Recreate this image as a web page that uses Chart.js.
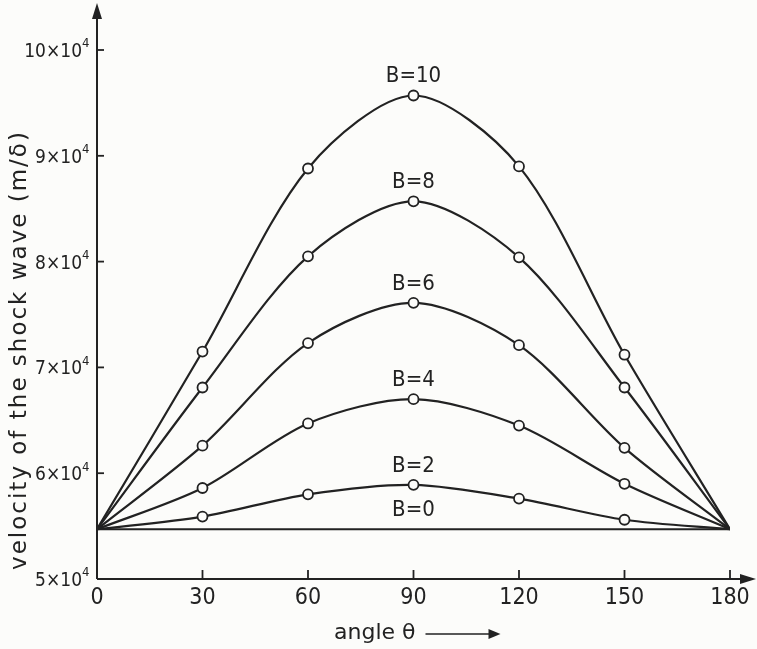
<!DOCTYPE html>
<html>
<head>
<meta charset="utf-8">
<script src="https://cdn.jsdelivr.net/npm/chart.js@4/dist/chart.umd.min.js"></script>
<style>
  html, body { margin: 0; padding: 0; background: #fcfcfa; }
  #wrap { width: 757px; height: 649px; }
</style>
</head>
<body>
<div id="wrap"><canvas id="shockChart" width="757" height="649"></canvas></div>
<script>
// angle theta (degrees)
const angles = [0, 30, 60, 90, 120, 150, 180];
// curve names
const curveNames = ["B=0", "B=2", "B=4", "B=6", "B=8", "B=10"];
// velocity of the shock wave, in units of 10^4 m/s
const b0 = [5.47, 5.47, 5.47, 5.47, 5.47, 5.47, 5.47];
const b2 = [5.47, 5.59, 5.80, 5.89, 5.76, 5.56, 5.47];
const b4 = [5.47, 5.86, 6.47, 6.70, 6.45, 5.90, 5.47];
const b6 = [5.47, 6.26, 7.23, 7.61, 7.21, 6.24, 5.47];
const b8 = [5.47, 6.81, 8.05, 8.57, 8.04, 6.81, 5.47];
const b10 = [5.47, 7.15, 8.88, 9.57, 8.90, 7.12, 5.47];
const yTicks = [5, 6, 7, 8, 9, 10];
const xTicks = [0, 30, 60, 90, 120, 150, 180];

const series = [b0, b2, b4, b6, b8, b10];
const ink = "#222";
const paper = "#fcfcfa";
const narrow = "'DejaVu Sans Condensed', 'DejaVu Sans', sans-serif";

const datasets = series.map((vals, i) => ({
    label: curveNames[i],
    data: angles.map((a, j) => ({ x: a, y: vals[j] })),
    borderColor: ink,
    borderWidth: 2.2,
    backgroundColor: paper,
    pointBackgroundColor: paper,
    pointBorderColor: ink,
    pointBorderWidth: 1.8,
    // no markers at the end points, none on B=0
    pointRadius: angles.map((a, j) => (i === 0 || j === 0 || j === angles.length - 1) ? 0 : 5),
    tension: 0.3,
    fill: false
}));

// axes with arrows, inward ticks, tick labels, curve labels and titles
const axesPlugin = {
    id: "axesPlugin",
    afterDraw(chart) {
        const { ctx, scales: { x, y } } = chart;
        const x0 = x.getPixelForValue(0);
        const y0 = y.getPixelForValue(5);
        ctx.save();
        ctx.strokeStyle = ink;
        ctx.fillStyle = ink;
        ctx.lineWidth = 2;

        // y axis
        ctx.beginPath();
        ctx.moveTo(x0, y0);
        ctx.lineTo(x0, 14);
        ctx.stroke();
        ctx.beginPath();
        ctx.moveTo(x0, 3);
        ctx.lineTo(x0 - 5, 19);
        ctx.lineTo(x0 + 5, 19);
        ctx.closePath();
        ctx.fill();

        // x axis
        ctx.beginPath();
        ctx.moveTo(x0, y0);
        ctx.lineTo(744, y0);
        ctx.stroke();
        ctx.beginPath();
        ctx.moveTo(756, y0);
        ctx.lineTo(740, y0 - 5);
        ctx.lineTo(740, y0 + 5);
        ctx.closePath();
        ctx.fill();

        // ticks
        ctx.lineWidth = 1.8;
        yTicks.slice(1).forEach(v => {
            const py = y.getPixelForValue(v);
            ctx.beginPath();
            ctx.moveTo(x0, py);
            ctx.lineTo(x0 + 7, py);
            ctx.stroke();
        });
        xTicks.slice(1).forEach(v => {
            const px = x.getPixelForValue(v);
            ctx.beginPath();
            ctx.moveTo(px, y0);
            ctx.lineTo(px, y0 - 9);
            ctx.stroke();
        });

        // y tick labels: n×10 with a raised 4
        ctx.textBaseline = "middle";
        yTicks.forEach(v => {
            const py = y.getPixelForValue(v);
            ctx.font = "19px " + narrow;
            ctx.textAlign = "right";
            ctx.fillText(v + "×10", 82, py + 2);
            ctx.font = "13px " + narrow;
            ctx.textAlign = "left";
            ctx.fillText("4", 82, py - 6);
        });

        // x tick labels
        ctx.font = "23px " + narrow;
        ctx.textAlign = "center";
        xTicks.forEach(v => {
            ctx.fillText(String(v), x.getPixelForValue(v), 598);
        });

        // curve labels above the peaks
        ctx.font = "22px " + narrow;
        ctx.textAlign = "center";
        ctx.textBaseline = "bottom";
        series.forEach((vals, i) => {
            const px = x.getPixelForValue(90);
            const py = y.getPixelForValue(vals[3]);
            ctx.fillText(curveNames[i], px, py - 8);
        });

        // x title with arrow
        ctx.font = "22px 'DejaVu Sans', sans-serif";
        ctx.textAlign = "left";
        ctx.textBaseline = "middle";
        const title = "angle θ";
        const tx = 334, ty = 633;
        ctx.fillText(title, tx, ty);
        const ax = tx + ctx.measureText(title).width + 10;
        ctx.lineWidth = 1.6;
        ctx.beginPath();
        ctx.moveTo(ax, ty + 1);
        ctx.lineTo(ax + 72, ty + 1);
        ctx.stroke();
        ctx.beginPath();
        ctx.moveTo(ax + 75, ty + 1);
        ctx.lineTo(ax + 63, ty - 4);
        ctx.lineTo(ax + 63, ty + 6);
        ctx.closePath();
        ctx.fill();

        // y title, rotated
        ctx.translate(20, 350);
        ctx.rotate(-Math.PI / 2);
        ctx.font = "23px 'DejaVu Sans', sans-serif";
        ctx.letterSpacing = "2px";
        ctx.textAlign = "center";
        ctx.fillText("velocity of the shock wave (m/δ)", 0, 0);
        ctx.restore();
    }
};

new Chart(document.getElementById("shockChart"), {
    type: "line",
    data: { datasets },
    options: {
        responsive: false,
        animation: false,
        layout: { padding: { top: 50, right: 27, left: 0, bottom: 0 } },
        plugins: {
            legend: { display: false },
            tooltip: { enabled: false }
        },
        scales: {
            x: {
                type: "linear",
                min: 0,
                max: 180,
                afterFit: s => { s.height = 70; },
                grid: { display: false },
                border: { display: false },
                ticks: { display: false }
            },
            y: {
                type: "linear",
                min: 5,
                max: 10,
                afterFit: s => { s.width = 97; },
                grid: { display: false },
                border: { display: false },
                ticks: { display: false }
            }
        }
    },
    plugins: [axesPlugin]
});
</script>
</body>
</html>
